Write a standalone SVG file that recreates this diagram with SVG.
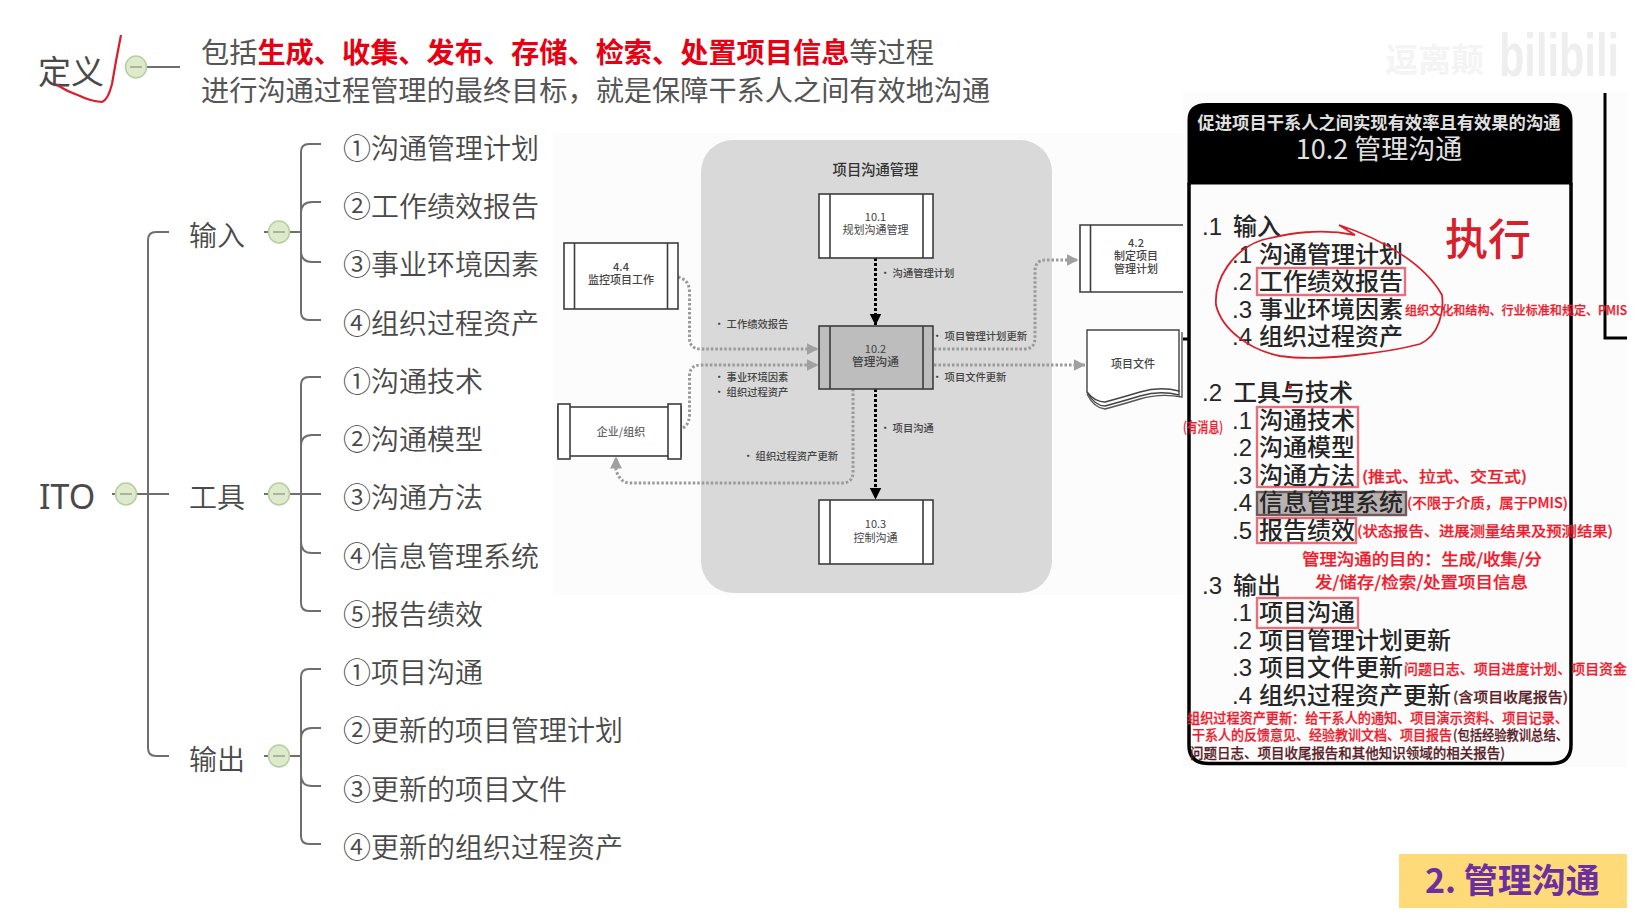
<svg xmlns="http://www.w3.org/2000/svg" width="1645" height="920" viewBox="0 0 1645 920">
<defs>
<style>
text{font-family:"Noto Sans CJK SC","Liberation Sans",sans-serif}
.mm{font-size:28px;fill:#4a4a4a;font-weight:350}
.br{fill:none;stroke:#6e6e6e;stroke-width:2}
.knob{fill:#dfeacd;stroke:#b5cf9f;stroke-width:1.5}
.kd{stroke:#8a9a80;stroke-width:1.3}
.box{fill:#fff;stroke:#3c3c3c;stroke-width:1.6}
.b2{fill:#bdbdbd;stroke:#3c3c3c;stroke-width:1.6}
.t{font-size:11px;fill:#444;text-anchor:middle;font-weight:400}
.l{font-size:10.3px;fill:#444;font-weight:500}
.g{fill:none;stroke:#9a9a9a;stroke-width:3;stroke-dasharray:2.5 2}
.k{fill:none;stroke:#000;stroke-width:3;stroke-dasharray:3 2}
.p{font-size:24px;fill:#262626;font-weight:500}
.n{font-family:"Liberation Sans",sans-serif;font-size:24px;fill:#262626}
.rb{fill:none;stroke:#e8707a;stroke-width:2.4}
.r{font-size:14px;fill:#ee1c2e;font-weight:500;stroke:#ee1c2e;stroke-width:.25}
.d{font-size:14px;fill:#5a1f28;font-weight:500;stroke:#5a1f28;stroke-width:.25}
</style>
<marker id="ak" markerUnits="userSpaceOnUse" markerWidth="12" markerHeight="13" refX="11.5" refY="6" orient="auto"><path d="M0 0L12 6L0 12Z" fill="#000"/></marker>
<marker id="ag" markerUnits="userSpaceOnUse" markerWidth="12" markerHeight="13" refX="11.5" refY="6" orient="auto"><path d="M0 0L12 6L0 12Z" fill="#a0a0a0"/></marker>
</defs>
<rect width="1645" height="920" fill="#fff"/>
<rect x="553" y="133" width="630" height="462" fill="#fcfcfc"/>
<rect x="1183" y="92" width="444" height="675" fill="#fcfcfc"/>

<g id="watermark">
<text x="1385" y="72" font-size="33" fill="#f4f4f4" font-weight="700" textLength="99" lengthAdjust="spacingAndGlyphs">逗离颠</text>
<text transform="translate(1499 76) scale(.67 1)" font-size="62" fill="#eeeeee" font-weight="700" style="font-family:'Liberation Sans',sans-serif">bilibili</text>
</g>

<g id="connectors-mindmap">
<path class="br" d="M112 494H169M169 232H156Q148 232 148 240V748Q148 756 156 756H169"/>
<path class="br" d="M136 67H180"/>
<path class="br" d="M264 232H301M321 144H309Q301 144 301 152V312Q301 320 309 320H321M321 202H312Q301 202 301 213V251Q301 262 312 262H321"/>
<path class="br" d="M264 494H321M321 377H309Q301 377 301 385V603Q301 611 309 611H321M321 435H312Q301 435 301 446V542Q301 553 312 553H321"/>
<path class="br" d="M264 756H301M321 669H309Q301 669 301 677V836Q301 844 309 844H321M321 728H312Q301 728 301 739V775Q301 786 312 786H321"/>
</g>

<g id="node-def">
<text x="38" y="84" font-size="33" fill="#4a4a4a">定义</text>
<ellipse class="knob" cx="136" cy="67" rx="10.5" ry="11"/><path class="kd" d="M130 67H142"/>
<path d="M121 35Q116 60 112 84Q108 100 102 102Q90 101 80 96Q68 92 57 85" fill="none" stroke="#dc1c2c" stroke-width="2.2"/>
</g>
<g id="node-def-text">
<text x="201" y="63" font-size="28.2" fill="#555">包括<tspan fill="#e60012" font-weight="700">生成、收集、发布、存储、检索、处置项目信息</tspan>等过程</text>
<text x="201" y="101" font-size="28.2" fill="#555">进行沟通过程管理的最终目标，就是保障干系人之间有效地沟通</text>
</g>

<g id="node-ito"><text x="39" y="509" font-size="34" fill="#4a4a4a" style="font-family:'Noto Sans',sans-serif">ITO</text>
<ellipse class="knob" cx="126" cy="494" rx="10.5" ry="11"/><path class="kd" d="M120 494H132"/></g>
<g id="node-input"><text class="mm" x="189" y="246">输入</text><ellipse class="knob" cx="279" cy="232" rx="10.5" ry="11"/><path class="kd" d="M273 232H285"/></g>
<g id="node-tool"><text class="mm" x="189" y="508">工具</text><ellipse class="knob" cx="279" cy="494" rx="10.5" ry="11"/><path class="kd" d="M273 494H285"/></g>
<g id="node-output"><text class="mm" x="189" y="770">输出</text><ellipse class="knob" cx="279" cy="756" rx="10.5" ry="11"/><path class="kd" d="M273 756H285"/></g>
<g id="mm-items">
<text class="mm" x="343" y="159">①沟通管理计划</text>
<text class="mm" x="343" y="217">②工作绩效报告</text>
<text class="mm" x="343" y="275">③事业环境因素</text>
<text class="mm" x="343" y="334">④组织过程资产</text>
<text class="mm" x="343" y="392">①沟通技术</text>
<text class="mm" x="343" y="450">②沟通模型</text>
<text class="mm" x="343" y="508">③沟通方法</text>
<text class="mm" x="343" y="567">④信息管理系统</text>
<text class="mm" x="343" y="625">⑤报告绩效</text>
<text class="mm" x="343" y="683">①项目沟通</text>
<text class="mm" x="343" y="741">②更新的项目管理计划</text>
<text class="mm" x="343" y="800">③更新的项目文件</text>
<text class="mm" x="343" y="858">④更新的组织过程资产</text>
</g>

<g id="group-panel"><rect x="701" y="140" width="351" height="453" rx="32" fill="#d9d9d9"/>
<text x="875.5" y="175" font-size="14.3" fill="#333" text-anchor="middle" font-weight="500">项目沟通管理</text></g>

<g id="connectors">
<path class="k" d="M875.5 258V325" marker-end="url(#ak)"/>
<path class="k" d="M875.5 389V499" marker-end="url(#ak)"/>
<path class="g" d="M678 277Q689.5 280 689.5 292V338Q689.5 349 701 349H818" marker-end="url(#ag)"/>
<path class="g" d="M683 428Q689.5 424 689.5 414V376Q689.5 365 701 365H818" marker-end="url(#ag)"/>
<path class="g" d="M934 349H1024Q1035 349 1035 338V271Q1035 260 1046 260H1078" marker-end="url(#ag)"/>
<path class="g" d="M934 365H1085" marker-end="url(#ag)"/>
<path class="g" d="M853 389V472Q853 483 842 483H630Q620 483 616 470V457" marker-end="url(#ag)"/>
</g>

<g id="n101"><rect class="box" x="819" y="194" width="114" height="64"/><path class="box" d="M830 194V258M923 194V258"/><text class="t" x="875.5" y="221">10.1</text><text class="t" x="875.5" y="234">规划沟通管理</text></g>
<g id="n102"><rect class="b2" x="819" y="326" width="114" height="63"/><path class="box" d="M830 326V389M923 326V389"/><text class="t" x="875.5" y="353">10.2</text><text class="t" x="875.5" y="366" style="font-size:11.7px;font-weight:500">管理沟通</text></g>
<g id="n103"><rect class="box" x="819" y="500" width="114" height="64"/><path class="box" d="M830 500V564M923 500V564"/><text class="t" x="875.5" y="528">10.3</text><text class="t" x="875.5" y="542">控制沟通</text></g>
<g id="n44"><rect class="box" x="564" y="243" width="114" height="66"/><path class="box" d="M574.5 243V309M667.5 243V309"/><text class="t" x="621" y="271" style="font-weight:500">4.4</text><text class="t" x="621" y="284" style="font-weight:500">监控项目工作</text></g>
<g id="nent"><rect class="box" x="558" y="407" width="123" height="49"/><rect class="box" x="558" y="404" width="12" height="55"/><rect class="box" x="668" y="404" width="13" height="55"/><text class="t" x="621" y="436" style="font-weight:500;fill:#666">企业/组织</text></g>
<g id="n42"><path class="box" d="M1183 225H1080V292H1183M1090.5 225V292"/><text class="t" x="1136" y="247" style="font-weight:500">4.2</text><text class="t" x="1136" y="260" style="font-weight:500">制定项目</text><text class="t" x="1136" y="273" style="font-weight:500">管理计划</text></g>
<g id="ndoc"><path d="M1087 330H1179L1179 391Q1160 386 1140 392T1105 402Q1095 402 1087 392Z" fill="#fff" stroke="#444" stroke-width="1.4"/>
<path d="M1179 391V395Q1160 390 1140 396T1105 406Q1095 406 1087 392" fill="none" stroke="#444" stroke-width="1.4"/>
<path d="M1182 332V397Q1160 393 1140 399T1105 409Q1094 408 1087 394" fill="none" stroke="#555" stroke-width="1.4"/>
<text class="t" x="1133" y="368" style="font-weight:500">项目文件</text></g>

<g id="diagram-labels">
<text class="l" x="880" y="277">• 沟通管理计划</text>
<text class="l" x="714" y="328">• 工作绩效报告</text>
<text class="l" x="932" y="340">• 项目管理计划更新</text>
<text class="l" x="714" y="381">• 事业环境因素</text>
<text class="l" x="714" y="396">• 组织过程资产</text>
<text class="l" x="932" y="381">• 项目文件更新</text>
<text class="l" x="880" y="432">• 项目沟通</text>
<text class="l" x="743" y="460">• 组织过程资产更新</text>
</g>

<g id="ito-panel">
<path d="M1189 183V120Q1189 104.500 1207 104.500H1553Q1571 104.500 1571 120V183Z" fill="#000" stroke="#000" stroke-width="3"/>
<path d="M1189 183V745Q1189 763.500 1209 763.500H1551Q1571 763.500 1571 745V183" fill="none" stroke="#000" stroke-width="3.500"/>
<path d="M1605 93V338H1627" fill="none" stroke="#000" stroke-width="3"/>
<path d="M1183 339H1188" stroke="#000" stroke-width="3"/>
<text x="1379" y="129" font-size="17.300" fill="#e0e0e0" font-weight="700" text-anchor="middle">促进项目干系人之间实现有效率且有效果的沟通</text>
<text x="1379" y="159" font-size="27" fill="#e0e0e0" text-anchor="middle">10.2 管理沟通</text>

<rect class="rb" x="1257" y="268" width="148" height="27"/>
<rect class="rb" x="1257" y="407" width="101" height="80"/>
<rect x="1257" y="492" width="149" height="23" fill="#b8b2b2" stroke="#6f5a5c" stroke-width="2.400"/>
<rect class="rb" x="1257" y="518" width="99" height="25"/>
<rect class="rb" x="1257" y="598" width="101" height="30"/>

<text class="n" x="1202" y="235">.1</text><text class="p" x="1233" y="235">输入</text>
<text class="n" x="1232" y="263">.1</text><text class="p" x="1259" y="263">沟通管理计划</text>
<text class="n" x="1232" y="290">.2</text><text class="p" x="1259" y="290">工作绩效报告</text>
<text class="n" x="1232" y="318">.3</text><text class="p" x="1259" y="318">事业环境因素</text>
<text class="n" x="1232" y="345">.4</text><text class="p" x="1259" y="345">组织过程资产</text>

<text class="n" x="1202" y="401">.2</text><text class="p" x="1233" y="401">工具与技术</text>
<text class="n" x="1232" y="429">.1</text><text class="p" x="1259" y="429">沟通技术</text>
<text class="n" x="1232" y="456">.2</text><text class="p" x="1259" y="456">沟通模型</text>
<text class="n" x="1232" y="484">.3</text><text class="p" x="1259" y="484">沟通方法</text>
<text class="n" x="1232" y="511">.4</text><text class="p" x="1259" y="511">信息管理系统</text>
<text class="n" x="1232" y="539">.5</text><text class="p" x="1259" y="539">报告绩效</text>

<text class="n" x="1202" y="594">.3</text><text class="p" x="1233" y="594">输出</text>
<text class="n" x="1232" y="621">.1</text><text class="p" x="1259" y="621">项目沟通</text>
<text class="n" x="1232" y="649">.2</text><text class="p" x="1259" y="649">项目管理计划更新</text>
<text class="n" x="1232" y="676">.3</text><text class="p" x="1259" y="676">项目文件更新</text>
<text class="n" x="1232" y="704">.4</text><text class="p" x="1259" y="704">组织过程资产更新</text>

<text x="1445" y="255" font-size="43" fill="#d8202c" font-weight="500">执行</text>
<path d="M1339 225L1355 235C1320 228 1290 233 1262 240C1232 250 1214 280 1216 305C1222 330 1250 350 1280 356C1320 362 1390 352 1420 344C1440 335 1444 310 1442 295C1425 265 1385 240 1339 225" fill="none" stroke="#d8202c" stroke-width="1.800"/>
<circle cx="1290" cy="387" r="2" fill="#e0202c"/>

<text class="r" x="1405" y="315" textLength="222" lengthAdjust="spacingAndGlyphs" style="font-size:12.5px">组织文化和结构、行业标准和规定、PMIS</text>
<text class="r" x="1183" y="432" textLength="40" lengthAdjust="spacingAndGlyphs">(有消息)</text>
<text class="r" x="1362" y="482" textLength="165" lengthAdjust="spacingAndGlyphs" style="font-size:15px">(推式、拉式、交互式)</text>
<text class="r" x="1407" y="508" textLength="161" lengthAdjust="spacingAndGlyphs">(不限于介质，属于PMIS)</text>
<text class="r" x="1357" y="536" textLength="256" lengthAdjust="spacingAndGlyphs">(状态报告、进展测量结果及预测结果)</text>
<text class="r" x="1302" y="565" style="font-size:16px" textLength="240" lengthAdjust="spacingAndGlyphs">管理沟通的目的：生成/收集/分</text>
<text class="r" x="1315" y="588" style="font-size:16px" textLength="213" lengthAdjust="spacingAndGlyphs">发/储存/检索/处置项目信息</text>
<text class="r" x="1404" y="674" textLength="223" lengthAdjust="spacingAndGlyphs">问题日志、项目进度计划、项目资金</text>
<text class="d" x="1453" y="702" textLength="115" lengthAdjust="spacingAndGlyphs">(含项目收尾报告)</text>
<text class="r" x="1187" y="723" textLength="381" lengthAdjust="spacingAndGlyphs">组织过程资产更新：给干系人的通知、项目演示资料、项目记录、</text>
<text class="r" x="1192" y="740" textLength="260" lengthAdjust="spacingAndGlyphs">干系人的反馈意见、经验教训文档、项目报告</text>
<text class="d" x="1453" y="740" textLength="115" lengthAdjust="spacingAndGlyphs">(包括经验教训总结、</text>
<text class="d" x="1190" y="758" textLength="315" lengthAdjust="spacingAndGlyphs">问题日志、项目收尾报告和其他知识领域的相关报告)</text>
</g>

<g id="tag"><rect x="1399" y="854" width="228" height="54" fill="#fedb78"/>
<text x="1425" y="893" font-size="34" fill="#6b2fa0" font-weight="600">2. 管理沟通</text></g>
</svg>
